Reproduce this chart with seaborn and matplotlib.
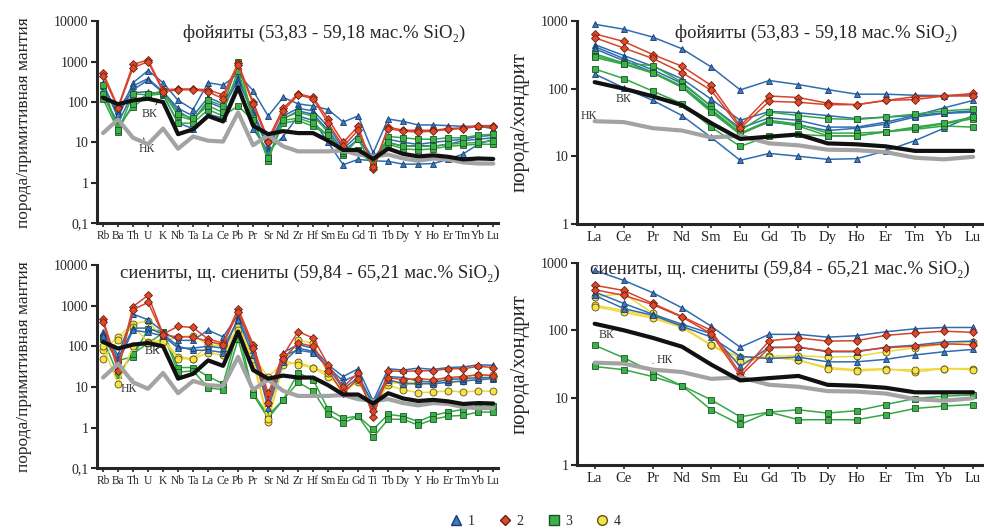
import numpy as np
import pandas as pd
import matplotlib
matplotlib.use("Agg")
import matplotlib.pyplot as plt
from matplotlib.lines import Line2D
from matplotlib.ticker import FixedLocator, NullLocator
import seaborn as sns

sns.set_style("ticks")
plt.rcParams["font.family"] = ["Liberation Serif", "DejaVu Serif"]

# элементы
spider_el = ["Rb", "Ba", "Th", "U", "K", "Nb", "Ta", "La", "Ce", "Pb", "Pr", "Sr", "Nd", "Zr",
             "Hf", "Sm", "Eu", "Gd", "Ti", "Tb", "Dy", "Y", "Ho", "Er", "Tm", "Yb", "Lu"]
ree_el = ["La", "Ce", "Pr", "Nd", "Sm", "Eu", "Gd", "Tb", "Dy", "Ho", "Er", "Tm", "Yb", "Lu"]

# верхняя (ВК) и нижняя (НК) кора
vk_spider = [128, 88, 110, 120, 100, 16, 21, 45, 33, 230, 26, 16, 19, 17, 17, 11, 6.5, 6.5, 3.9,
             7, 5.2, 4.5, 4.8, 4.4, 3.8, 4, 3.9]
nk_spider = [17, 37, 13, 9, 22, 7, 14, 11, 10.5, 55, 8.5, 15, 8, 6, 6, 6, 6.3, 5, 4.5, 5, 4,
             3.5, 4, 3.8, 3.2, 3, 3]
vk_ree = [125, 100, 77, 57, 31, 18, 19.5, 21, 15.5, 15, 14, 12, 12, 12]
nk_ree = [33, 32, 26, 24, 19, 20, 15.5, 14.5, 12.5, 12.3, 11.5, 9.5, 9, 9.8]

# фойяиты, спайдер
foy_sp_1 = [
    [300, 40, 300, 600, 300, 110, 65, 300, 260, 500, 190, 45, 130, 90, 80, 65, 32, 45, 5.5, 38, 33, 27, 27, 26, 25, 25, 22],
    [200, 60, 250, 380, 180, 70, 45, 130, 90, 400, 60, 8, 45, 70, 60, 25, 7, 15, 4, 12, 10, 9, 10, 11, 12, 14, 15],
    [250, 50, 200, 350, 170, 60, 35, 100, 70, 350, 50, 7, 38, 60, 50, 20, 6, 12, 3.8, 10, 8, 8.5, 8, 9, 11, 12, 13],
    [150, 30, 170, 180, 150, 30, 22, 50, 40, 300, 22, 6, 14, 45, 35, 10, 2.8, 3.8, 3.5, 3.4, 2.9, 2.9, 3.0, 3.8, 5.2, 9, 12],
]
foy_sp_2 = [
    [530, 75, 850, 1100, 200, 210, 210, 200, 150, 900, 100, 12, 70, 160, 130, 38, 10, 25, 2.2, 24, 20, 20, 20, 22, 23, 26, 26],
    [440, 70, 700, 1000, 180, 200, 200, 180, 120, 800, 90, 10, 60, 150, 120, 30, 8, 20, 2.5, 22, 19, 18, 19, 21, 22, 25, 24],
]
foy_sp_3 = [
    [270, 18, 160, 150, 190, 45, 35, 110, 80, 950, 40, 3.5, 40, 55, 45, 18, 5, 12, 2.5, 14, 13, 12, 12, 13, 13, 15, 16],
    [160, 25, 75, 145, 160, 30, 30, 65, 45, 80, 35, 4, 30, 35, 25, 15, 5.5, 6.5, 2.8, 9, 7, 6.5, 7, 8, 8.5, 9, 9],
    [120, 20, 90, 160, 170, 50, 40, 80, 55, 600, 35, 4, 35, 40, 30, 15, 6, 6, 3, 10, 8, 8, 8, 9, 9.5, 10, 11],
]

# фойяиты, РЗЭ
foy_ree_1 = [
    [900, 760, 580, 390, 210, 96, 132, 115, 97, 83, 83, 80, 79, 81],
    [450, 310, 215, 140, 70, 34, 46, 44, 40, 36, 38, 40, 44, 47],
    [420, 280, 190, 120, 55, 26, 37, 34, 27, 27, 32, 40, 52, 67],
    [390, 260, 175, 105, 48, 22, 32, 29, 24, 26, 30, 38, 43, 45],
    [165, 103, 67, 40, 19, 8.7, 11, 10, 9, 9.2, 12, 17, 26, 40],
]
foy_ree_2 = [
    [650, 500, 320, 215, 112, 28, 78, 74, 61, 58, 67, 76, 78, 85],
    [570, 400, 280, 173, 95, 26, 65, 63, 58, 58, 67, 69, 78, 78],
]
foy_ree_3 = [
    [330, 240, 220, 125, 55, 24, 45, 40, 36, 35, 38, 42, 47, 50],
    [310, 235, 175, 110, 50, 22, 34, 30, 22, 22, 23, 26, 30, 36],
    [290, 230, 170, 105, 45, 21, 33, 28, 20, 20, 23, 25, 28, 27],
    [196, 141, 92, 60, 27, 14, 20, 21, 20, 20, 23, 27, 31, 38],
]

# сиениты, спайдер
sye_sp_1 = [
    [230, 60, 620, 450, 230, 140, 140, 250, 170, 600, 110, 5, 70, 110, 90, 35, 18, 28, 4.5, 28, 26, 29, 27, 30, 31, 35, 34],
    [200, 50, 280, 280, 200, 100, 80, 80, 70, 500, 80, 3, 40, 90, 75, 30, 14, 20, 3.5, 15, 12, 12, 12, 13, 14, 15, 16],
    [180, 40, 250, 220, 180, 90, 90, 100, 90, 450, 60, 4, 60, 80, 70, 30, 9, 17, 4, 18, 17, 14, 13, 15, 16, 17, 17],
]
sye_sp_2 = [
    [470, 30, 950, 1800, 200, 310, 290, 150, 120, 850, 110, 7, 60, 230, 160, 35, 10, 22, 1.8, 25, 24, 25, 25, 28, 28, 32, 30],
    [400, 25, 800, 1200, 190, 170, 170, 130, 110, 700, 90, 4, 50, 120, 100, 25, 7, 16, 2.5, 17, 15, 16, 15, 17, 18, 20, 19],
]
sye_sp_3 = [
    [170, 45, 55, 270, 230, 30, 30, 18, 12, 250, 7, 2, 4.8, 22, 15, 2.8, 1.7, 1.9, 0.9, 2.1, 1.9, 1.4, 2.0, 2.4, 2.8, 3.3, 3.4],
    [150, 20, 65, 120, 210, 23, 25, 9.5, 8.5, 150, 6.5, 1.7, 4.8, 13, 8, 2.1, 1.3, 1.9, 0.57, 1.6, 1.6, 1.15, 1.6, 1.9, 2.0, 2.4, 2.4],
]
sye_sp_4 = [
    [80, 170, 350, 430, 150, 55, 50, 100, 110, 350, 55, 18, 37, 140, 120, 20, 8, 14, 4, 14, 13, 13, 14, 16, 17, 20, 20],
    [50, 140, 300, 130, 140, 50, 48, 70, 60, 300, 40, 1.4, 35, 40, 30, 18, 9, 13, 3.5, 11, 8.5, 7.2, 7.5, 8, 7.5, 8, 7.8],
    [100, 12, 100, 120, 130, 170, 180, 110, 100, 250, 50, 1.6, 45, 35, 30, 22, 7, 15, 3.8, 13, 12, 12, 12, 13, 14, 16, 17],
]

# сиениты, РЗЭ
sye_ree_1 = [
    [775, 550, 360, 215, 115, 56, 87, 87, 79, 83, 95, 105, 110, 110],
    [370, 250, 173, 123, 89, 29, 56, 56, 48, 48, 56, 60, 67, 69],
    [330, 210, 167, 115, 79, 41, 38, 40, 34, 34, 37, 43, 48, 52],
]
sye_ree_2 = [
    [465, 390, 250, 160, 100, 23, 70, 77, 69, 70, 84, 91, 97, 93],
    [400, 330, 240, 157, 89, 21, 55, 56, 49, 49, 55, 58, 63, 61],
]
sye_ree_3 = [
    [60, 39, 24, 15, 9.3, 5.2, 6.1, 6.6, 5.9, 6.4, 7.9, 9.7, 10.5, 11],
    [29, 26, 20.5, 15, 6.6, 4.0, 6.1, 4.7, 4.7, 4.7, 5.6, 6.9, 7.5, 7.9],
]
sye_ree_4 = [
    [315, 350, 178, 115, 60, 40, 41, 42, 40, 41, 48, 55, 62, 68],
    [235, 198, 158, 112, 60, 39, 41, 36, 28, 26, 27, 24, 27, 27],
    [225, 185, 150, 110, 60, 34, 40, 36, 27, 25, 26, 26, 27, 26],
]

groups = {
    "1": dict(line="#2f6db3", face="#3b7bc6", edge="#173a6a", marker="^", ms=5),
    "2": dict(line="#d8432a", face="#dc4a2c", edge="#6e1c0c", marker="D", ms=3.8),
    "3": dict(line="#35a845", face="#3cb04a", edge="#1c5424", marker="s", ms=5),
    "4": dict(line="#f0d83a", face="#f6e24a", edge="#5e5412", marker="o", ms=5),
}


def draw_series(ax, labels, data_by_group, vk, nk):
    x = np.arange(len(labels))
    for g, rows in data_by_group:
        st = groups[g]
        for row in rows:
            sns.lineplot(x=x, y=row, ax=ax, color=st["line"], lw=1.1, marker=st["marker"],
                         markersize=st["ms"], markerfacecolor=st["face"],
                         markeredgecolor=st["edge"], markeredgewidth=0.6, zorder=3)
    sns.lineplot(x=x, y=nk, ax=ax, color="#a3a3a3", lw=3, zorder=4)
    sns.lineplot(x=x, y=vk, ax=ax, color="#111111", lw=3, zorder=5)


def style_axes(ax, labels, ylim, yticks, yticklabels, xsize, xpad):
    ax.set_yscale("log")
    ax.set_ylim(*ylim)
    ax.yaxis.set_major_locator(FixedLocator(yticks))
    ax.yaxis.set_minor_locator(NullLocator())
    ax.set_yticklabels(yticklabels, fontsize=10)
    ax.set_xticks(np.arange(len(labels)))
    ax.set_xticklabels(labels, fontsize=xsize)
    ax.set_xlim(xpad[0], len(labels) - 1 + xpad[1])
    ax.set_xlabel("")
    for s in ["top", "right"]:
        ax.spines[s].set_visible(False)
    for s in ["left", "bottom"]:
        ax.spines[s].set_linewidth(2.2)
    ax.tick_params(axis="y", length=4, width=1.5, pad=2)
    ax.tick_params(axis="x", length=3, width=1.2, pad=2)


fig = plt.figure(figsize=(9.84, 5.29), dpi=100)
ax1 = fig.add_axes([0.0986, 0.578, 0.408, 0.382])
ax2 = fig.add_axes([0.586, 0.577, 0.413, 0.383])
ax3 = fig.add_axes([0.0986, 0.115, 0.408, 0.384])
ax4 = fig.add_axes([0.586, 0.121, 0.413, 0.382])

draw_series(ax1, spider_el, [("1", foy_sp_1), ("3", foy_sp_3), ("2", foy_sp_2)], vk_spider, nk_spider)
draw_series(ax2, ree_el, [("1", foy_ree_1), ("3", foy_ree_3), ("2", foy_ree_2)], vk_ree, nk_ree)
draw_series(ax3, spider_el, [("3", sye_sp_3), ("4", sye_sp_4), ("1", sye_sp_1), ("2", sye_sp_2)],
            vk_spider, nk_spider)
draw_series(ax4, ree_el, [("3", sye_ree_3), ("4", sye_ree_4), ("1", sye_ree_1), ("2", sye_ree_2)],
            vk_ree, nk_ree)

sp_ticks = [0.1, 1, 10, 100, 1000, 10000]
sp_tl = ["0,1", "1", "10", "100", "1000", "10000"]
ree_ticks = [1, 10, 100, 1000]
ree_tl = ["1", "10", "100", "1000"]
style_axes(ax1, spider_el, (0.1, 10000), sp_ticks, sp_tl, 8.3, (-0.4, 0.35))
style_axes(ax3, spider_el, (0.1, 10000), sp_ticks, sp_tl, 8.3, (-0.4, 0.35))
style_axes(ax2, ree_el, (1, 1000), ree_ticks, ree_tl, 10.5, (-0.62, 0.34))
style_axes(ax4, ree_el, (1, 1000), ree_ticks, ree_tl, 10.5, (-0.62, 0.34))

for ax in (ax1, ax3):
    ax.set_ylabel("порода/примитивная мантия", fontsize=12.5, labelpad=16)
for ax in (ax2, ax4):
    ax.set_ylabel("порода/хондрит", fontsize=15, labelpad=8)

t_foy = "фойяиты (53,83 - 59,18 мас.% SiO₂)"
t_sye = "сиениты, щ. сиениты (59,84 - 65,21 мас.% SiO₂)"
ax1.text(0.565, 0.985, t_foy, transform=ax1.transAxes, ha="center", va="top", fontsize=13.5)
ax2.text(0.59, 0.985, t_foy, transform=ax2.transAxes, ha="center", va="top", fontsize=13.5)
ax3.text(0.53, 1.0, t_sye, transform=ax3.transAxes, ha="center", va="top", fontsize=13.5)
ax4.text(0.5, 1.01, t_sye, transform=ax4.transAxes, ha="center", va="top", fontsize=13.5)

# подписи ВК / НК
ann = dict(fontsize=8.5, color="#333333",
           arrowprops=dict(arrowstyle="-", color="#333333", lw=0.7))
ax1.annotate("ВК", xy=(3.6, 95), xytext=(3.1, 50), ha="center", va="center", **ann)
ax1.annotate("НК", xy=(2.7, 13), xytext=(2.9, 6.8), ha="center", va="center", **ann)
ax2.annotate("ВК", xy=(1.1, 100), xytext=(1.0, 70), ha="center", va="center", **ann)
ax2.annotate("НК", xy=(0.2, 33), xytext=(-0.2, 39), ha="center", va="center", **ann)
ax3.annotate("ВК", xy=(3.9, 100), xytext=(3.3, 75), ha="center", va="center", **ann)
ax3.annotate("НК", xy=(2.0, 16), xytext=(1.7, 9), ha="center", va="center", **ann)
ax4.annotate("ВК", xy=(1.0, 100), xytext=(0.4, 86), ha="center", va="center", **ann)
ax4.annotate("НК", xy=(2.0, 32), xytext=(2.4, 36), ha="center", va="center", **ann)

handles = [Line2D([], [], ls="none", marker=groups[g]["marker"], markersize=7 if g != "2" else 5.5,
                  markerfacecolor=groups[g]["face"], markeredgecolor=groups[g]["edge"])
           for g in ["1", "2", "3", "4"]]
fig.legend(handles, ["1", "2", "3", "4"], loc="lower center", bbox_to_anchor=(0.543, -0.022),
           ncol=4, frameon=False, fontsize=10, handletextpad=0.2, columnspacing=1.6,
           handlelength=1.2)

fig.savefig("out.png", dpi=100)
